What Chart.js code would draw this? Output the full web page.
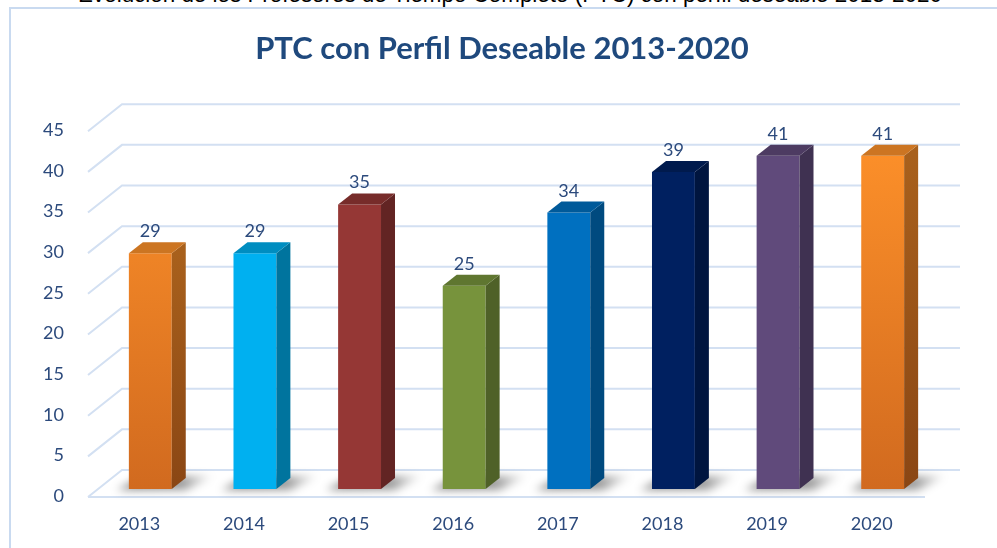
<!DOCTYPE html>
<html>
<head>
<meta charset="utf-8">
<script src="https://cdn.jsdelivr.net/npm/chart.js@4"></script>
<style>
  html, body { margin: 0; padding: 0; background: #fff; overflow: hidden; }
  body { width: 997px; height: 548px; position: relative; }
  #caption {
    position: absolute; left: 0; top: -16px; width: 1020px; text-align: center;
    font: 22.4px "Liberation Sans", Arial, sans-serif; line-height: 22px; color: #000;
    white-space: nowrap;
  }
  #frame {
    position: absolute; left: 9px; top: 7px; width: 1000px; height: 560px;
    border: 2px solid #c9daf0;
  }
  #wrap { position: absolute; left: 0; top: 0; width: 997px; height: 548px; }
</style>
</head>
<body>
<div id="caption">Evolución de los Profesores de Tiempo Completo (PTC) con perfil deseable 2013-2020</div>
<div id="frame"></div>
<div id="wrap"><canvas id="ptcChart" width="997" height="548"></canvas></div>
<script>
// datos
const years = ['2013', '2014', '2015', '2016', '2017', '2018', '2019', '2020'];
const values = [29, 29, 35, 25, 34, 39, 41, 41];
const yTicks = [0, 5, 10, 15, 20, 25, 30, 35, 40, 45];
const colorTop = ['#FF922A', '#00B0F0', '#953735', '#77933C', '#0070C0', '#002060', '#604A7B', '#FF922A'];
const colorBottom = ['#D16A1F', '#00B0F0', '#953735', '#77933C', '#0070C0', '#002060', '#604A7B', '#D16A1F'];

const DX = 14, DY = 11;        // profundidad de las barras
const WX = 34, WY = 27;        // profundidad de la pared del fondo
const textBlue = '#2c4a7c';

function shade(hex, f) {
  var n = parseInt(hex.slice(1), 16);
  var r = Math.round(((n >> 16) & 255) * f);
  var g = Math.round(((n >> 8) & 255) * f);
  var b = Math.round((n & 255) * f);
  return 'rgb(' + r + ',' + g + ',' + b + ')';
}

function vGrad(ctx, top, bottom, c1, c2) {
  var g = ctx.createLinearGradient(0, top, 0, bottom);
  g.addColorStop(0, c1);
  g.addColorStop(1, c2);
  return g;
}

const bar3d = {
  id: 'bar3d',
  beforeDatasetsDraw(chart) {
    const ctx = chart.ctx;
    const area = chart.chartArea;
    const ys = chart.scales.y;
    ctx.save();
    // rejilla en perspectiva
    ctx.strokeStyle = '#d3e0f2';
    ctx.lineWidth = 2;
    ys.ticks.forEach(function (t) {
      const py = ys.getPixelForValue(t.value);
      ctx.beginPath();
      ctx.moveTo(area.left - 10, py + 8);
      ctx.lineTo(area.left - 10 + WX, py + 8 - WY);
      ctx.lineTo(area.right + 25, py + 8 - WY);
      ctx.stroke();
      if (t.value === 0) {
        ctx.beginPath();
        ctx.moveTo(area.left - 10, py + 8);
        ctx.lineTo(area.right - 10, py + 8);
        ctx.stroke();
      }
    });
    // sombras
    const meta = chart.getDatasetMeta(0);
    meta.data.forEach(function (bar) {
      const p = bar.getProps(['x', 'base', 'width'], true);
      const l = p.x - p.width / 2, r = p.x + p.width / 2;
      ctx.save();
      ctx.filter = 'blur(4px)';
      const g = ctx.createLinearGradient(l, 0, r + DX + 30, 0);
      g.addColorStop(0, 'rgba(0,0,0,0.45)');
      g.addColorStop(0.6, 'rgba(0,0,0,0.4)');
      g.addColorStop(1, 'rgba(0,0,0,0.0)');
      ctx.fillStyle = g;
      ctx.beginPath();
      ctx.moveTo(l - 12, p.base + 1);
      ctx.lineTo(r + DX, p.base + 1);
      ctx.lineTo(r + DX + 28, p.base - 13);
      ctx.lineTo(l + DX, p.base - 13);
      ctx.closePath();
      ctx.fill();
      ctx.restore();
    });
    ctx.restore();
  },
  afterDatasetsDraw(chart) {
    const ctx = chart.ctx;
    const meta = chart.getDatasetMeta(0);
    ctx.save();
    meta.data.forEach(function (bar, i) {
      const p = bar.getProps(['x', 'y', 'base', 'width'], true);
      const l = p.x - p.width / 2, r = p.x + p.width / 2;
      // cara lateral
      ctx.fillStyle = vGrad(ctx, p.y, p.base, shade(colorTop[i], 0.66), shade(colorBottom[i], 0.66));
      ctx.beginPath();
      ctx.moveTo(r, p.y);
      ctx.lineTo(r + DX, p.y - DY);
      ctx.lineTo(r + DX, p.base - DY);
      ctx.lineTo(r, p.base);
      ctx.closePath();
      ctx.fill();
      // cara superior
      ctx.fillStyle = shade(colorTop[i], 0.8);
      ctx.beginPath();
      ctx.moveTo(l, p.y);
      ctx.lineTo(l + DX, p.y - DY);
      ctx.lineTo(r + DX, p.y - DY);
      ctx.lineTo(r, p.y);
      ctx.closePath();
      ctx.fill();
      // etiqueta de valor
      ctx.fillStyle = textBlue;
      ctx.font = '18px Lato';
      ctx.textAlign = 'center';
      ctx.textBaseline = 'alphabetic';
      ctx.fillText(String(values[i]), p.x, p.y - DY - 5);
    });
    ctx.restore();
  }
};

const ctx = document.getElementById('ptcChart').getContext('2d');
const ptcChart = new Chart(ctx, {
  type: 'bar',
  data: {
    labels: years,
    datasets: [{
      label: 'PTC con Perfil Deseable',
      data: values,
      backgroundColor: function (c) {
        const area = c.chart.chartArea;
        if (!area) return colorTop[c.dataIndex];
        return vGrad(c.chart.ctx, area.top, area.bottom, colorTop[c.dataIndex], colorBottom[c.dataIndex]);
      },
      borderWidth: 0,
      barPercentage: 0.41,
      categoryPercentage: 1
    }]
  },
  options: {
    responsive: false,
    animation: false,
    layout: { padding: { left: 7, right: 0, top: 10, bottom: 0 } },
    plugins: {
      legend: { display: false },
      tooltip: { enabled: false },
      title: {
        display: true,
        text: 'PTC con Perfil Deseable 2013-2020',
        color: '#1f497d',
        font: { family: 'Lato', size: 31, weight: 'bold' },
        padding: { top: 20, bottom: 56 }
      }
    },
    scales: {
      x: {
        grid: { display: false },
        border: { display: false },
        ticks: { color: textBlue, font: { family: 'Lato', size: 18 }, padding: 16, labelOffset: -11 },
        afterFit: function (s) { s.height = 59; }
      },
      y: {
        min: 0,
        max: 45,
        afterBuildTicks: function (s) { s.ticks = yTicks.map(function (v) { return { value: v }; }); },
        grid: { display: false },
        border: { display: false },
        ticks: { color: textBlue, font: { family: 'Lato', size: 18 }, padding: 26, labelOffset: 7 },
        afterFit: function (s) { s.width = 91; }
      },
      yRight: {
        position: 'right',
        display: true,
        grid: { display: false },
        border: { display: false },
        ticks: { display: false },
        afterFit: function (s) { s.width = 62; }
      }
    }
  },
  plugins: [bar3d]
});
</script>
</body>
</html>
